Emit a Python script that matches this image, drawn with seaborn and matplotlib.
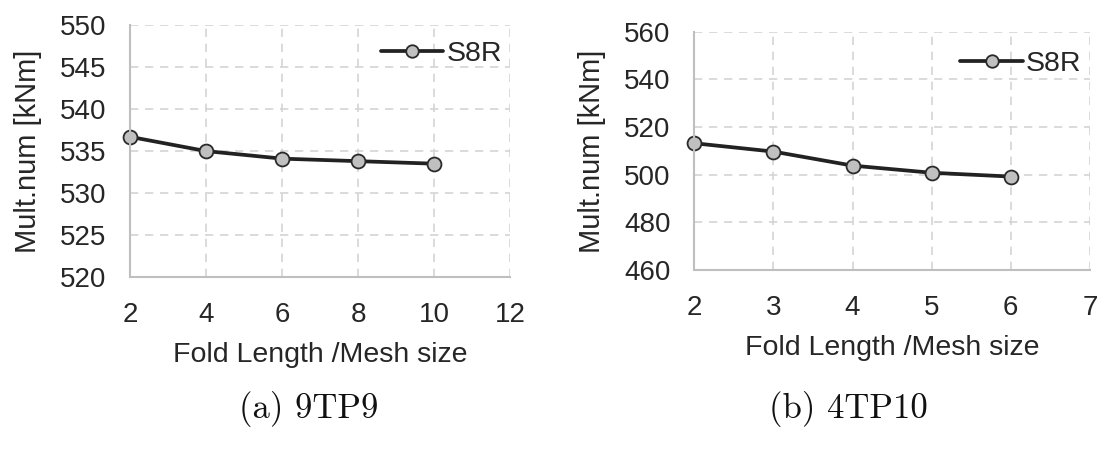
import matplotlib
matplotlib.use("Agg")
import matplotlib.pyplot as plt
import seaborn as sns
import pandas as pd

# Data
x_a = [2, 4, 6, 8, 10]
y_a = [536.7, 535.0, 534.1, 533.8, 533.5]
x_b = [2, 3, 4, 5, 6]
y_b = [513.2, 509.7, 503.8, 500.8, 499.2]
series_name = "S8R"
xlabel = "Fold Length /Mesh size"
ylabel = "Mult.num [kNm]"
caption_a = "(a) 9TP9"
caption_b = "(b) 4TP10"

sns.set_theme(style="white")
plt.rcParams['font.family'] = ['Liberation Sans', 'DejaVu Sans']

fig = plt.figure(figsize=(11.02, 4.49), dpi=100)
ax1 = fig.add_axes([0.118, 0.383, 0.345, 0.561])
ax2 = fig.add_axes([0.630, 0.399, 0.359, 0.530])

def draw(ax, xs, ys, xlim, xticks, ylim, yticks, leg_y):
    df = pd.DataFrame({"x": xs, "y": ys, "s": series_name})
    sns.lineplot(data=df, x="x", y="y", hue="s", palette=["#222222"], ax=ax,
                 marker="o", markersize=10, markerfacecolor="#c0c0c0",
                 markeredgecolor="#2a2a2a", markeredgewidth=1.3, linewidth=2.7)
    ax.set_xlim(*xlim)
    ax.set_ylim(*ylim)
    ax.set_xticks(xticks)
    ax.set_yticks(yticks)
    ax.grid(True, linestyle=(0, (5, 4)), color="#d4d4d4", linewidth=1.2)
    ax.set_axisbelow(True)
    for s in ["top", "right"]:
        ax.spines[s].set_visible(False)
    for s in ["left", "bottom"]:
        ax.spines[s].set_color("#bfbfbf")
        ax.spines[s].set_linewidth(1.5)
    ax.tick_params(axis="y", labelsize=20, colors="#262626", length=0, pad=17)
    ax.tick_params(axis="x", labelsize=20, colors="#262626", length=0, pad=18)
    ax.set_xlabel(xlabel, fontsize=20.5, color="#262626", labelpad=10)
    ax.set_ylabel(ylabel, fontsize=21, color="#262626", labelpad=13)
    leg = ax.legend(loc="upper right", bbox_to_anchor=(1.0, leg_y), frameon=False,
                    fontsize=20.5, handlelength=2.2, handletextpad=0.1,
                    borderaxespad=0.0, borderpad=0.3)
    for h in leg.legend_handles:
        h.set_markersize(9)
    for t in leg.get_texts():
        t.set_color("#262626")

draw(ax1, x_a, y_a, (2, 12), [2, 4, 6, 8, 10, 12], (520, 550),
     [520, 525, 530, 535, 540, 545, 550], 0.97)
draw(ax2, x_b, y_b, (2, 7), [2, 3, 4, 5, 6, 7], (460, 560),
     [460, 480, 500, 520, 540, 560], 0.955)

for a in (ax1, ax2):
    for line in a.get_lines():
        line.set_clip_on(False)

fig.text(0.280, 0.09, caption_a, fontsize=25, family="cmr10", ha="center", va="center", color="#111111")
fig.text(0.770, 0.09, caption_b, fontsize=25, family="cmr10", ha="center", va="center", color="#111111")

fig.savefig("out.png", dpi=100)
